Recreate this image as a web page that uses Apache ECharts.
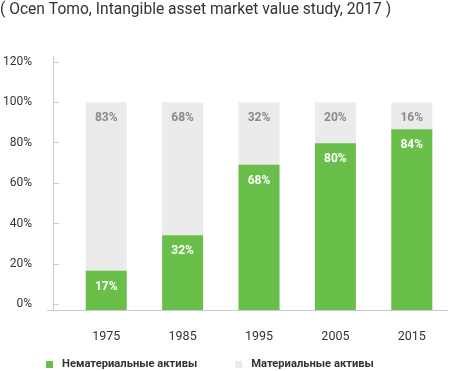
<!DOCTYPE html>
<html><head><meta charset="utf-8">
<script src="https://cdn.jsdelivr.net/npm/echarts@6/dist/echarts.min.js"></script>
<style>html,body{margin:0;padding:0;background:#fff}#c{width:450px;height:371px}</style>
</head><body><div id="c"></div>
<script>
const titleText = '( Ocen Tomo, Intangible asset market value study, 2017 )';
const years = ['1975', '1985', '1995', '2005', '2015'];
const intangible = [16.6, 34.2, 69.1, 79.7, 86.6];
const intangibleLabels = ['17%', '32%', '68%', '80%', '84%'];
const totals = [100, 100, 100, 100, 100];
const tangibleLabels = ['83%', '68%', '32%', '20%', '16%'];
const yTicks = [0, 20, 40, 60, 80, 100, 120];
const seriesNames = ['Нематериальные активы', 'Материальные активы'];

const chart = echarts.init(document.getElementById('c'), null, {renderer: 'canvas'});
chart.setOption({
  animation: false,
  textStyle: {fontFamily: 'Roboto'},
  title: {
    text: titleText, left: 0, top: 2, padding: 0,
    textStyle: {fontSize: 15.6, fontWeight: 'normal', color: '#333', fontFamily: 'Roboto'}
  },
  legend: {
    data: seriesNames, left: 46, top: 359, padding: 0,
    icon: 'rect', itemWidth: 7, itemHeight: 7, itemGap: 38,
    textStyle: {fontSize: 11.2, fontWeight: 'bold', color: '#333', padding: [0, 0, 0, 4]}
  },
  grid: [
    {left: 62, right: -7, top: 56, bottom: 61},
    {left: 47, right: 2, top: 56, bottom: 61}
  ],
  xAxis: [
    {
      type: 'category', gridIndex: 0, data: years,
      axisLine: {show: false}, axisTick: {show: false},
      axisLabel: {color: '#333', fontSize: 12.5, margin: 20}
    },
    {
      type: 'value', gridIndex: 1, min: 0, max: 1,
      axisLine: {show: true, onZero: false, lineStyle: {color: '#cccccc', width: 1}},
      axisTick: {show: false}, axisLabel: {show: false}, splitLine: {show: false}
    }
  ],
  yAxis: [
    {
      type: 'value', gridIndex: 0, min: -2.8, max: 122.9, startValue: -2.8, offset: 15,
      axisLine: {show: true, lineStyle: {color: '#cccccc', width: 1}},
      axisTick: {show: true, inside: true, length: 6, customValues: yTicks, lineStyle: {color: '#cccccc'}},
      axisLabel: {customValues: yTicks, formatter: '{value}%', color: '#333', fontSize: 12, margin: 21},
      splitLine: {show: false}
    },
    {type: 'value', gridIndex: 1, show: false, splitLine: {show: false}}
  ],
  series: [
    {
      name: seriesNames[1], type: 'bar', xAxisIndex: 0, yAxisIndex: 0,
      data: totals, barWidth: 41, barGap: '-100%',
      itemStyle: {color: '#ebebeb'},
      label: {show: true, position: 'insideTop', distance: 10,
        formatter: p => tangibleLabels[p.dataIndex],
        color: '#8a8a8a', fontWeight: 'bold', fontSize: 12}
    },
    {
      name: seriesNames[0], type: 'bar', xAxisIndex: 0, yAxisIndex: 0,
      data: intangible, barWidth: 41, barGap: '-100%',
      itemStyle: {color: '#6abf4b'},
      label: {show: true, position: 'insideTop', distance: 10,
        formatter: p => intangibleLabels[p.dataIndex],
        color: '#ffffff', fontWeight: 'bold', fontSize: 12}
    }
  ]
});
</script>
</body></html>
